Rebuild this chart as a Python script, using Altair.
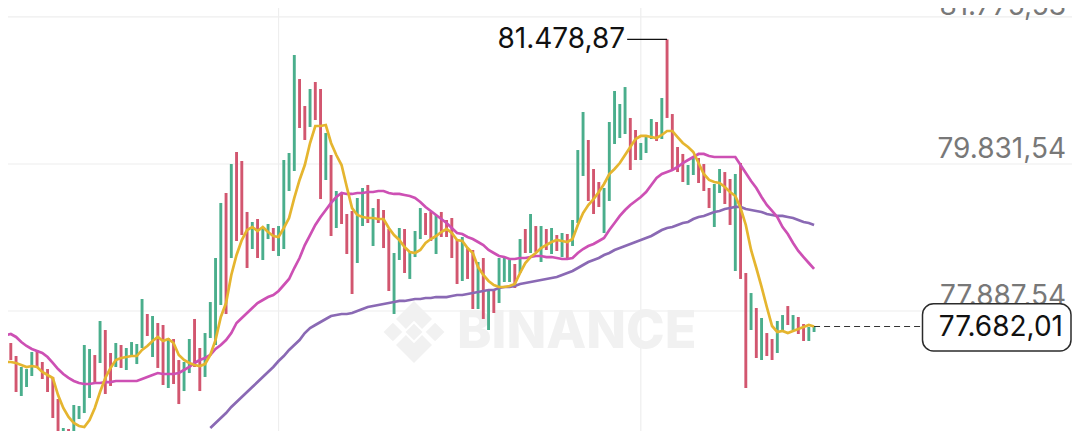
import altair as alt
import pandas as pd

highs = [
77345,77464,77464,77292,77147,77120,77345,77372,77213,77120,
77015,76724,76340,76327,76644,76631,77438,77385,77305,77755,
77636,77332,77464,77438,77398,77477,77451,78046,77848,77821,
77729,77702,77530,77517,77239,77213,77517,77782,77398,77596,
78006,78588,79316,79448,79831,79990,79871,79197,79064,79104,
78998,79038,78985,79011,79884,79977,81273,80955,80598,80823,
80916,80823,80241,79950,79474,79448,79170,79210,79382,79514,
79554,79249,79368,79223,78972,78654,78985,78972,78668,78945,
79249,79183,79197,79157,79197,79091,79117,78826,78866,78720,
78694,78535,78588,78152,78165,78588,78588,78562,78509,78839,
78972,79170,79011,79011,78972,78985,78892,78919,78906,79091,
80016,80519,80149,79765,79593,79514,80387,80797,80625,80849,
80440,80281,80109,80188,80426,80387,80704,81478.87,80492,80056,
79964,79818,79911,79911,79831,79514,79567,79765,79725,79633,
79699,79844,78390,78125,77927,77795,77596,77517,77755,77834,
77953,77834,77808,77715,77676,77689]
lows = [
77134,77213,77239,76816,76763,76882,77028,77134,76988,76816,
76472,76181,76115,76115,76234,76459,76538,76737,76948,77200,
76790,76896,77147,77134,77107,77305,77186,77398,77557,77279,
77134,76909,76869,76922,76657,76829,77067,77147,76829,77015,
77530,77438,77967,77848,78588,78813,78892,78456,78707,78588,
78562,78839,78681,78615,78707,79474,79739,80307,80149,80321,
80413,79368,79620,78879,78985,79038,78641,78112,78522,79011,
79051,78747,79051,78720,78152,77848,78562,78390,78311,78601,
78839,78892,78813,78641,78866,78866,78588,78244,78284,78311,
77914,77914,77782,77636,77861,77993,78271,78271,78192,78390,
78654,78654,78668,78535,78694,78641,78681,78601,78588,78747,
79051,79673,79342,79170,79263,78919,79342,80096,80175,80228,
79752,79884,79884,79977,80162,80135,80162,80440,79765,79725,
79593,79554,79686,79580,79474,79249,78998,79448,79302,79025,
78416,78311,76869,77636,77266,77239,77292,77239,77332,77623,
77702,77636,77583,77491,77491,77610]
directions = list(
    "RGRRGGGRRR" "RRGRGGGGRG" "RRGRGGGGRG" "RRGRRGGRRG"
    "GGGRGRRRGR" "GGRGGGGRRG" "RRGRGRRRGG" "RGRRRGGRGG"
    "GRRGRRRRGR" "RGRGRGGGRG" "RGRGRGRGRG" "GGRRRGGGGG"
    "RRGGGRGRRR" "RGGRRRGGRR" "GRRGRGRRGG" "RGRRGG")

ma_short = [
77200,77213,77213,77200,77173,77147,77160,77147,77081,77041,
77002,76776,76605,76486,76406,76367,76353,76446,76605,76816,
77002,77134,77239,77266,77279,77292,77292,77372,77425,77491,
77544,77491,77517,77464,77305,77239,77200,77173,77160,77186,
77305,77504,77808,77993,78364,78628,78826,78958,78998,78945,
78998,78932,78879,78866,78985,79117,79382,79620,79818,80109,
80334,80334,80347,80109,79950,79818,79527,79249,79157,79130,
79117,79117,79104,79104,78985,78892,78826,78734,78668,78654,
78694,78787,78839,78879,78932,78972,78919,78826,78813,78720,
78654,78469,78364,78284,78231,78205,78205,78218,78244,78390,
78522,78601,78654,78720,78760,78800,78826,78813,78800,78839,
79025,79183,79289,79368,79461,79567,79699,79765,79844,79950,
80056,80162,80202,80202,80188,80175,80215,80268,80268,80188,
80109,80056,79990,79844,79699,79620,79593,79580,79527,79461,
79408,79249,79025,78694,78456,78205,77940,77689,77610,77623,
77596,77623,77649,77676,77702,77682.01]
ma_mid = [
77544,77570,77583,77544,77477,77425,77385,77358,77332,77279,
77200,77120,77054,77002,76962,76935,76922,76922,76935,76935,
76948,76948,76962,76962,76962,76962,76962,76988,77015,77041,
77067,77054,77054,77054,77067,77107,77147,77200,77239,77266,
77305,77385,77438,77504,77596,77729,77795,77861,77927,77993,
78033,78072,78099,78152,78231,78311,78456,78588,78760,78892,
79025,79130,79223,79316,79395,79448,79435,79435,79448,79448,
79461,79461,79474,79474,79448,79435,79435,79421,79408,79382,
79329,79263,79210,79157,79104,79051,78985,78919,78906,78866,
78839,78800,78760,78694,78654,78615,78601,78575,78575,78588,
78588,78601,78615,78615,78601,78601,78588,78575,78575,78588,
78654,78707,78747,78773,78813,78853,78958,79051,79144,79223,
79289,79342,79395,79461,79554,79646,79699,79725,79752,79791,
79844,79884,79924,79964,79964,79937,79924,79924,79924,79924,
79924,79818,79712,79606,79514,79395,79289,79210,79130,78998,
78906,78787,78681,78601,78522,78443]
long_start = 40
ma_long = [
76340,76406,76472,76538,76618,76684,76750,76816,76882,76948,
77015,77081,77147,77226,77292,77372,77438,77504,77596,77663,
77702,77742,77782,77821,77834,77848,77848,77861,77887,77914,
77940,77953,77967,77980,77993,78006,78020,78020,78033,78046,
78046,78059,78059,78072,78072,78072,78086,78099,78099,78112,
78125,78139,78152,78165,78165,78192,78205,78205,78218,78244,
78258,78271,78284,78297,78311,78324,78337,78364,78390,78416,
78456,78496,78535,78562,78588,78628,78654,78694,78720,78747,
78773,78800,78826,78853,78879,78919,78958,78985,78998,79025,
79051,79064,79104,79130,79144,79170,79197,79210,79236,79249,
79263,79263,79236,79223,79210,79197,79170,79157,79144,79144,
79130,79117,79091,79064,79051,79025]

grid_prices = [81775.53, 79831.54, 77887.54]
grid_labels = ["81.775,53", "79.831,54", "77.887,54"]
grid_times = [53, 122]
peak_index = 127
peak_price = 81478.87
peak_label = "81.478,87"
peak_label_index = 119
last_index = 155
last_price = 77682.01
last_label = "77.682,01"
last_line_end = 175.6

FONT = "Inter"
GREEN, RED = "#4aae8c", "#d2566f"
x_scale = alt.Scale(domain=[1.467, 204.13], nice=False, zero=False)
y_scale = alt.Scale(domain=[76300.5, 81894.2], nice=False, zero=False)
X = lambda f: alt.X(f, type="quantitative", scale=x_scale, axis=None)
Y = lambda f: alt.Y(f, type="quantitative", scale=y_scale, axis=None)

bars = pd.DataFrame({"i": range(len(highs)), "high": highs, "low": lows, "dir": directions})
short = pd.DataFrame({"i": range(len(ma_short)), "p": ma_short})
mid = pd.DataFrame({"i": range(len(ma_mid)), "p": ma_mid})
longer = pd.DataFrame({"i": range(long_start, long_start + len(ma_long)), "p": ma_long})
grid_h = pd.DataFrame({"p": grid_prices, "t": grid_labels})
grid_v = pd.DataFrame({"i": grid_times})
peak = pd.DataFrame({"a": [peak_label_index + 0.4], "b": [peak_index], "t0": [peak_label_index], "p": [peak_price], "t": [peak_label]})
last = pd.DataFrame({"a": [last_index], "b": [last_line_end], "p": [last_price], "t": [last_label]})

logo = ("M0,-1L0.58,-0.42L0.26,-0.1L0,-0.36L-0.26,-0.1L-0.58,-0.42Z"
        "M0,1L0.58,0.42L0.26,0.1L0,0.36L-0.26,0.1L-0.58,0.42Z"
        "M0,-0.27L0.27,0L0,0.27L-0.27,0Z"
        "M-0.68,-0.3L-0.38,0L-0.68,0.3L-0.98,0Z"
        "M0.68,-0.3L0.98,0L0.68,0.3L0.38,0Z")
wm = pd.DataFrame({"t": ["BINANCE"]})

layers = [
    alt.Chart(grid_h).mark_rule(color="#eeeeee", strokeWidth=1.2).encode(y=Y("p")),
    alt.Chart(grid_v).mark_rule(color="#eeeeee", strokeWidth=1.2).encode(x=X("i")),
    alt.Chart(wm).mark_point(shape=logo, size=3844, filled=True, color="#f1f1f1", opacity=1).encode(
        x=alt.value(406), y=alt.value(324)),
    alt.Chart(wm).mark_text(font=FONT, fontSize=52, fontWeight=800, color="#f1f1f1", align="left", baseline="alphabetic").encode(
        x=alt.value(449), y=alt.value(340), text="t:N"),
    alt.Chart(grid_h.iloc[:1]).mark_text(font=FONT, fontSize=28, color="#787878", align="right", baseline="alphabetic", dy=-1.5).encode(
        x=alt.value(1058), y=Y("p"), text="t:N"),
    alt.Chart(grid_h.iloc[1:]).mark_text(font=FONT, fontSize=28, color="#787878", align="right", baseline="alphabetic", dy=-5.5).encode(
        x=alt.value(1058), y=Y("p"), text="t:N"),
    alt.Chart(bars).mark_rule(strokeWidth=2.9).encode(
        x=X("i"), y=Y("high"), y2="low",
        color=alt.Color("dir:N", scale=alt.Scale(domain=["G", "R"], range=[GREEN, RED]), legend=None)),
    alt.Chart(longer).mark_line(color="#8a69b4", strokeWidth=2.7).encode(x=X("i"), y=Y("p")),
    alt.Chart(mid).mark_line(color="#cd50b4", strokeWidth=2.7).encode(x=X("i"), y=Y("p")),
    alt.Chart(short).mark_line(color="#e5b52f", strokeWidth=2.7).encode(x=X("i"), y=Y("p")),
    alt.Chart(peak).mark_rule(color="#111111", strokeWidth=1.2).encode(x=X("a"), x2="b", y=Y("p")),
    alt.Chart(peak).mark_text(font=FONT, fontSize=28, color="#111111", align="right", baseline="middle", dy=1).encode(
        x=X("t0"), y=Y("p"), text="t:N"),
    alt.Chart(last).mark_rule(color="#333333", strokeWidth=1.1, strokeDash=[6, 4]).encode(x=X("a"), x2="b", y=Y("p")),
    alt.Chart(last).mark_rect(fill="white", stroke="#2b2b2b", strokeWidth=1.5, cornerRadius=11).encode(
        x=alt.value(914.5), x2=alt.value(1063), y=alt.value(295.7), y2=alt.value(343)),
    alt.Chart(last).mark_text(font=FONT, fontSize=28, color="#111111", align="right", baseline="middle", dy=1).encode(
        x=alt.value(1055), y=Y("p"), text="t:N"),
]

chart = alt.layer(*layers).properties(
    width=1064, height=423, padding=0,
    autosize=alt.AutoSizeParams(type="none"),
    background="white",
).configure_view(stroke=None)

chart.save("out.html", embed_options={"renderer": "svg", "actions": False})
